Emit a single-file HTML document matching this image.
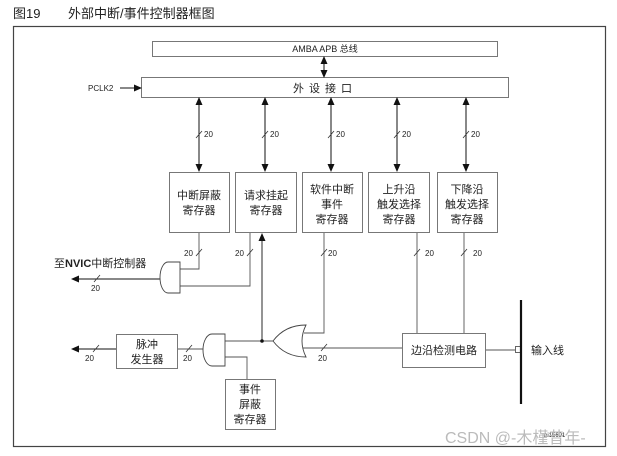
<html><head><style>body{margin:0;background:#fff}text{font-family:"Liberation Sans","Noto Sans CJK SC",sans-serif;fill:#222}</style></head><body>
<svg width="617" height="456" viewBox="0 0 617 456" xmlns="http://www.w3.org/2000/svg">
<defs><marker id="a" markerWidth="8" markerHeight="8" refX="7" refY="4" orient="auto-start-reverse" markerUnits="userSpaceOnUse"><path d="M0,0.5 L8,4 L0,7.5z" fill="#111"/></marker></defs>
<text x="13" y="18" font-size="13">图19</text>
<text x="68" y="18" font-size="13">外部中断/事件控制器框图</text>
<rect x="13.5" y="26.5" width="592" height="420" fill="none" stroke="#444" stroke-width="1.2"/>
<g fill="none" stroke="#777" stroke-width="1">
<rect x="152.5" y="41.5" width="345" height="15"/>
<rect x="141.5" y="77.5" width="367" height="20"/>
<rect x="169.5" y="172.5" width="60" height="60"/>
<rect x="235.5" y="172.5" width="61" height="60"/>
<rect x="302.5" y="172.5" width="60" height="60"/>
<rect x="368.5" y="172.5" width="61" height="60"/>
<rect x="437.5" y="172.5" width="60" height="60"/>
<rect x="402.5" y="333.5" width="83" height="34"/>
<rect x="116.5" y="334.5" width="61" height="34"/>
<rect x="225.5" y="379.5" width="50" height="50"/>
</g>
<g font-size="9" text-anchor="middle">
<text x="325" y="52">AMBA APB 总线</text>
</g>
<text x="325" y="92" font-size="11" text-anchor="middle" letter-spacing="5">外设接口</text>
<text x="88" y="91" font-size="8">PCLK2</text>
<g stroke="#111" stroke-width="1" fill="none">
<line x1="120" y1="88" x2="141" y2="88" marker-end="url(#a)"/>
<line x1="324" y1="57" x2="324" y2="77" marker-start="url(#a)" marker-end="url(#a)"/>
<line x1="199" y1="98" x2="199" y2="171" marker-start="url(#a)" marker-end="url(#a)"/>
<line x1="265" y1="98" x2="265" y2="171" marker-start="url(#a)" marker-end="url(#a)"/>
<line x1="331" y1="98" x2="331" y2="171" marker-start="url(#a)" marker-end="url(#a)"/>
<line x1="397" y1="98" x2="397" y2="171" marker-start="url(#a)" marker-end="url(#a)"/>
<line x1="466" y1="98" x2="466" y2="171" marker-start="url(#a)" marker-end="url(#a)"/>
</g>
<g stroke="#555" stroke-width="0.9" fill="none">
<path d="M199,233 V269 H180"/>
<path d="M250,233 V286 H180"/>
<path d="M160,279 H72" stroke="#111" marker-end="url(#a)"/>
<path d="M262,341 V234" stroke="#111" marker-end="url(#a)"/>
<path d="M324,233 V333 H304"/>
<path d="M417,233 V333"/><path d="M464,233 V333"/>
<path d="M402,348 H303"/>
<path d="M273,341 H225"/>
<path d="M225,357 H247 V379"/>
<path d="M203,349 H178"/>
<path d="M116,349 H72" stroke="#111" marker-end="url(#a)"/>
<path d="M486,350 H515"/>
<path d="M180,262 V293 H168 A8,15.5 0 0 1 168,262 Z" stroke="#444"/>
<path d="M225,334 V366 H212 A9,16 0 0 1 212,334 Z" stroke="#444"/>
<path d="M306,325 Q298,341 306,357 Q285,357 273,341 Q285,325 306,325 Z" stroke="#444"/>
<rect x="515.5" y="346.5" width="6" height="6" fill="#fff"/>
</g>
<circle cx="262" cy="341" r="1.8" fill="#111"/>
<line x1="521" y1="300" x2="521" y2="404" stroke="#111" stroke-width="2.2"/>
<g stroke="#333" stroke-width="0.8">
<line x1="196" y1="138" x2="202" y2="131"/><line x1="262" y1="138" x2="268" y2="131"/><line x1="328" y1="138" x2="334" y2="131"/><line x1="394" y1="138" x2="400" y2="131"/><line x1="463" y1="138" x2="469" y2="131"/>
<line x1="196" y1="256" x2="202" y2="249"/><line x1="247" y1="256" x2="253" y2="249"/><line x1="321" y1="256" x2="327" y2="249"/><line x1="414" y1="256" x2="420" y2="249"/><line x1="461" y1="256" x2="467" y2="249"/>
<line x1="94" y1="282" x2="100" y2="275"/><line x1="93" y1="352" x2="99" y2="345"/><line x1="186" y1="352" x2="192" y2="345"/><line x1="321" y1="351" x2="327" y2="344"/>
</g>
<g font-size="8">
<text x="204" y="137">20</text><text x="270" y="137">20</text><text x="336" y="137">20</text><text x="402" y="137">20</text><text x="471" y="137">20</text>
<text x="184" y="256">20</text><text x="235" y="256">20</text><text x="328" y="256">20</text><text x="425" y="256">20</text><text x="473" y="256">20</text>
<text x="91" y="291">20</text><text x="85" y="361">20</text><text x="183" y="361">20</text><text x="318" y="361">20</text>
</g>
<g font-size="11" text-anchor="middle">
<text x="199" y="199">中断屏蔽</text><text x="199" y="214">寄存器</text>
<text x="266" y="199">请求挂起</text><text x="266" y="214">寄存器</text>
<text x="332" y="193">软件中断</text><text x="332" y="208">事件</text><text x="332" y="223">寄存器</text>
<text x="399" y="193">上升沿</text><text x="399" y="208">触发选择</text><text x="399" y="223">寄存器</text>
<text x="467" y="193">下降沿</text><text x="467" y="208">触发选择</text><text x="467" y="223">寄存器</text>
<text x="444" y="354">边沿检测电路</text>
<text x="147" y="348">脉冲</text><text x="147" y="363">发生器</text>
<text x="250" y="393">事件</text><text x="250" y="408">屏蔽</text><text x="250" y="423">寄存器</text>
</g>
<text x="54" y="267" font-size="11">至<tspan font-weight="bold">NVIC</tspan>中断控制器</text>
<text x="531" y="354" font-size="11">输入线</text>
<text x="544" y="437" font-size="6">ai15691</text>
<text x="445" y="443" font-size="16" style="fill:#bbb">CSDN @-木槿昔年-</text>
</svg>
</body></html>
